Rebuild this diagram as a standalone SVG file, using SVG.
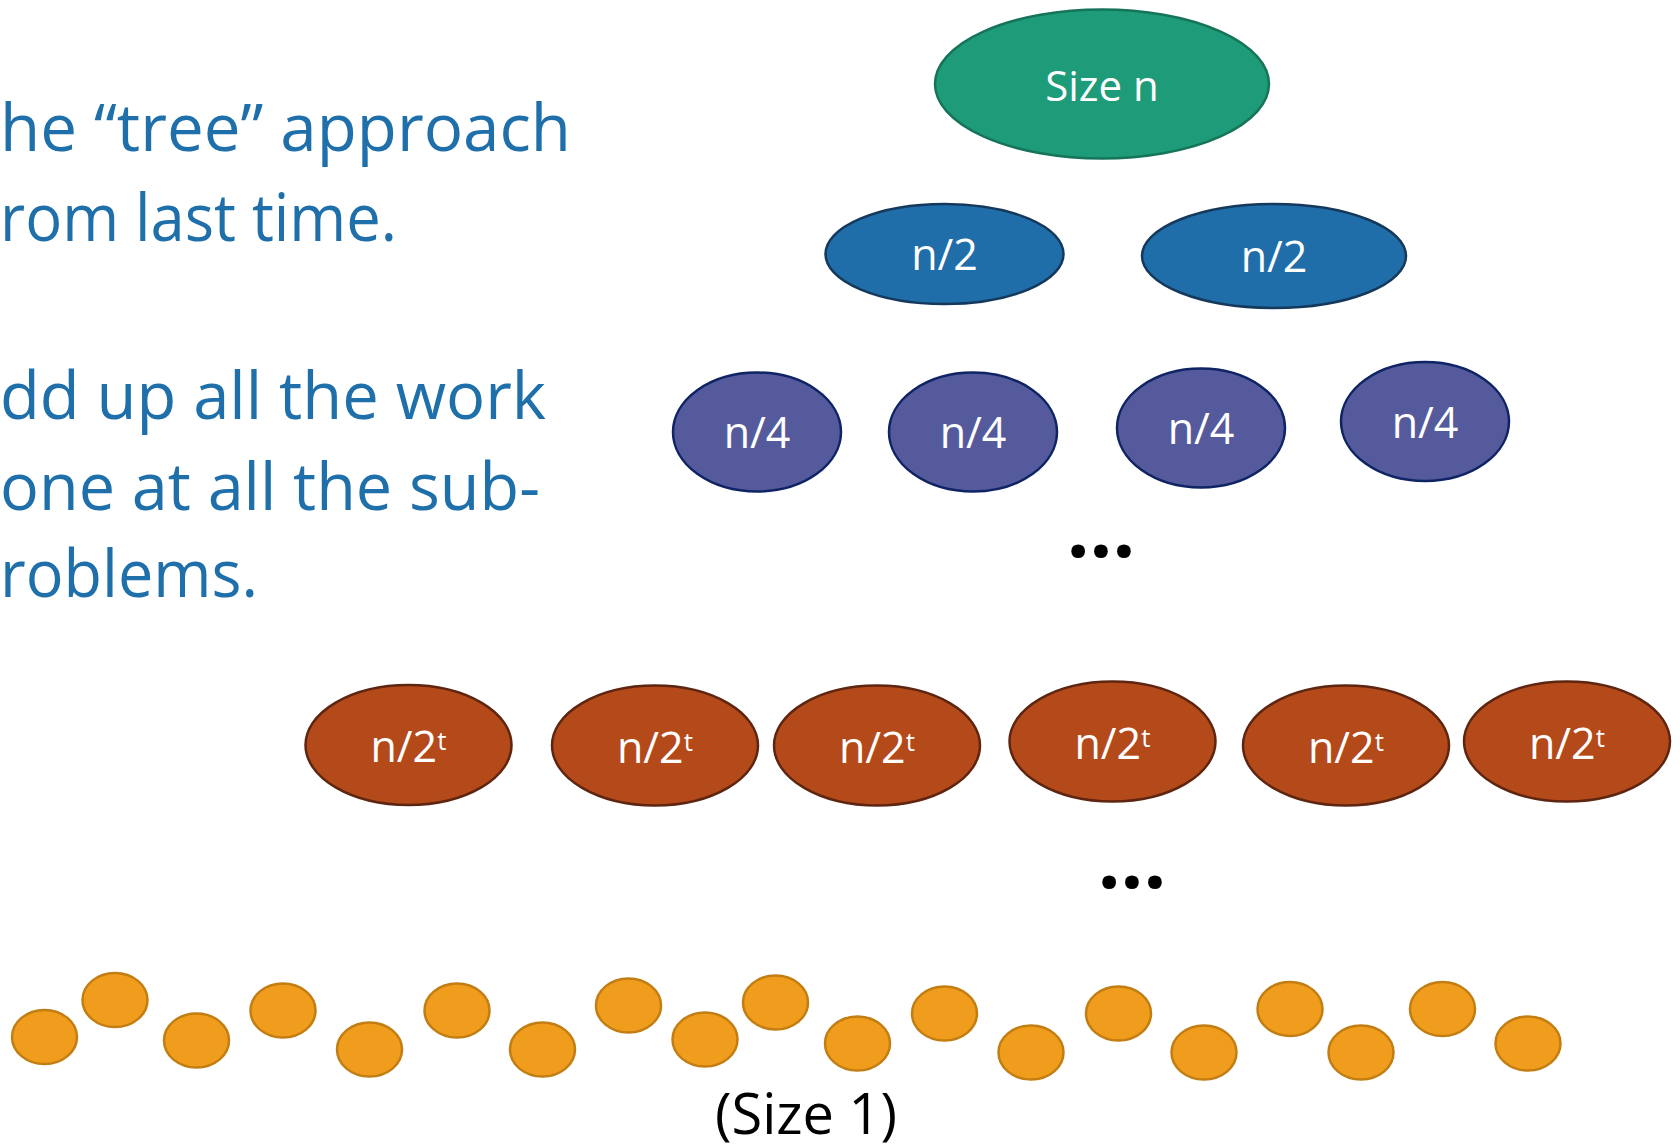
<svg xmlns="http://www.w3.org/2000/svg" width="1680" height="1147" viewBox="0 0 1680 1147">
<style>
.lbl{font-family:"Open Sans","Liberation Sans",sans-serif;fill:#ffffff;text-anchor:middle}
.body{font-family:"Open Sans","Liberation Sans",sans-serif;fill:#1F6FAB;font-size:66px}
.g{fill:#1E9B78;stroke:#15745A;stroke-width:2.5}
.b{fill:#1F6EA9;stroke:#15395C;stroke-width:2.5}
.p{fill:#545A9B;stroke:#0F2464;stroke-width:2.5}
.r{fill:#B4491A;stroke:#5E2510;stroke-width:2.5}
.o{fill:#F09D1E;stroke:#C27E12;stroke-width:2.5}
.dots{font-family:"Open Sans","Liberation Sans",sans-serif;font-weight:bold;font-size:80px;fill:#000;text-anchor:middle}
</style>
<rect width="1680" height="1147" fill="#ffffff"/>
<g id="text">
<text class="body" x="0" y="151" textLength="571" lengthAdjust="spacingAndGlyphs">he “tree” approach</text>
<text class="body" x="0" y="241" textLength="397" lengthAdjust="spacingAndGlyphs">rom last time.</text>
<text class="body" x="0" y="419" textLength="546" lengthAdjust="spacingAndGlyphs">dd up all the work</text>
<text class="body" x="0" y="510" textLength="540" lengthAdjust="spacingAndGlyphs">one at all the sub-</text>
<text class="body" x="0" y="597" textLength="258" lengthAdjust="spacingAndGlyphs">roblems.</text>
</g>
<g id="connectors"></g>
<g id="root">
<ellipse class="g" cx="1102" cy="84" rx="167" ry="74.5"/>
<text class="lbl" x="1102" y="101" font-size="42">Size n</text>
</g>
<g id="half1"><ellipse class="b" cx="944.5" cy="254" rx="119" ry="50"/><text class="lbl" x="944.5" y="270" font-size="43">n/2</text></g>
<g id="half2"><ellipse class="b" cx="1274" cy="256" rx="132" ry="52"/><text class="lbl" x="1274" y="272" font-size="43">n/2</text></g>
<g id="q1"><ellipse class="p" cx="757" cy="432" rx="84" ry="59.5"/><text class="lbl" x="757" y="448" font-size="43">n/4</text></g>
<g id="q2"><ellipse class="p" cx="973" cy="432" rx="84" ry="59.5"/><text class="lbl" x="973" y="448" font-size="43">n/4</text></g>
<g id="q3"><ellipse class="p" cx="1201" cy="428" rx="84" ry="59.5"/><text class="lbl" x="1201" y="444" font-size="43">n/4</text></g>
<g id="q4"><ellipse class="p" cx="1425" cy="421.5" rx="84" ry="59.5"/><text class="lbl" x="1425" y="437.5" font-size="43">n/4</text></g>
<g id="dots1"><text class="dots" x="1101" y="557">...</text></g>
<g id="t1"><ellipse class="r" cx="408.5" cy="745" rx="103" ry="60"/><text class="lbl" x="408.5" y="762" font-size="43">n/2<tspan font-size="26" dy="-12">t</tspan></text></g>
<g id="t2"><ellipse class="r" cx="655" cy="745.5" rx="103" ry="60"/><text class="lbl" x="655" y="762.5" font-size="43">n/2<tspan font-size="26" dy="-12">t</tspan></text></g>
<g id="t3"><ellipse class="r" cx="877" cy="745.5" rx="103" ry="60"/><text class="lbl" x="877" y="762.5" font-size="43">n/2<tspan font-size="26" dy="-12">t</tspan></text></g>
<g id="t4"><ellipse class="r" cx="1112.5" cy="741.5" rx="103" ry="60"/><text class="lbl" x="1112.5" y="758.5" font-size="43">n/2<tspan font-size="26" dy="-12">t</tspan></text></g>
<g id="t5"><ellipse class="r" cx="1346" cy="745.5" rx="103" ry="60"/><text class="lbl" x="1346" y="762.5" font-size="43">n/2<tspan font-size="26" dy="-12">t</tspan></text></g>
<g id="t6"><ellipse class="r" cx="1567" cy="741.5" rx="103" ry="60"/><text class="lbl" x="1567" y="758.5" font-size="43">n/2<tspan font-size="26" dy="-12">t</tspan></text></g>
<g id="dots2"><text class="dots" x="1132" y="888">...</text></g>
<g id="leaves">
<ellipse class="o" cx="44.5" cy="1037" rx="32.5" ry="27"/>
<ellipse class="o" cx="115" cy="1000" rx="32.5" ry="27"/>
<ellipse class="o" cx="196.5" cy="1040.5" rx="32.5" ry="27"/>
<ellipse class="o" cx="283" cy="1010.5" rx="32.5" ry="27"/>
<ellipse class="o" cx="369.5" cy="1049.5" rx="32.5" ry="27"/>
<ellipse class="o" cx="457" cy="1010.5" rx="32.5" ry="27"/>
<ellipse class="o" cx="542.5" cy="1049.5" rx="32.5" ry="27"/>
<ellipse class="o" cx="628.5" cy="1005.5" rx="32.5" ry="27"/>
<ellipse class="o" cx="705" cy="1039.5" rx="32.5" ry="27"/>
<ellipse class="o" cx="775.5" cy="1002.5" rx="32.5" ry="27"/>
<ellipse class="o" cx="857.5" cy="1043.5" rx="32.5" ry="27"/>
<ellipse class="o" cx="944.5" cy="1013.5" rx="32.5" ry="27"/>
<ellipse class="o" cx="1031" cy="1052.5" rx="32.5" ry="27"/>
<ellipse class="o" cx="1118.5" cy="1013.5" rx="32.5" ry="27"/>
<ellipse class="o" cx="1204" cy="1052.5" rx="32.5" ry="27"/>
<ellipse class="o" cx="1290" cy="1009" rx="32.5" ry="27"/>
<ellipse class="o" cx="1361" cy="1052.5" rx="32.5" ry="27"/>
<ellipse class="o" cx="1442.5" cy="1009" rx="32.5" ry="27"/>
<ellipse class="o" cx="1528" cy="1043.5" rx="32.5" ry="27"/>
</g>
<g id="size1"><text x="806" y="1134" font-family="'Open Sans','Liberation Sans',sans-serif" font-size="56" fill="#000" text-anchor="middle">(Size 1)</text></g>
</svg>
